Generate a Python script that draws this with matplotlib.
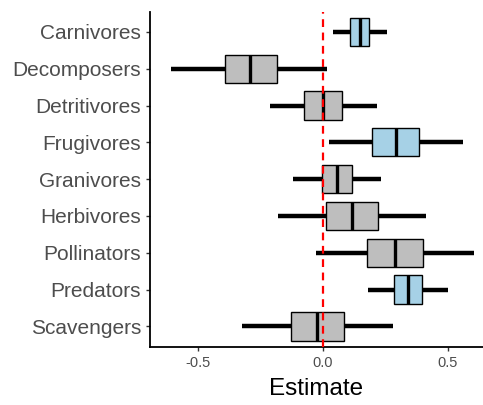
import numpy as np
import matplotlib.pyplot as plt

plt.rcParams['font.family'] = ['Liberation Sans', 'DejaVu Sans']

groups = ["Carnivores", "Decomposers", "Detritivores", "Frugivores", "Granivores",
          "Herbivores", "Pollinators", "Predators", "Scavengers"]
lo = [0.039, -0.609, -0.212, 0.025, -0.119, -0.180, -0.029, 0.181, -0.324]
q1 = [0.109, -0.393, -0.075, 0.197, -0.004, 0.011, 0.177, 0.284, -0.129]
med = [0.148, -0.291, 0.000, 0.291, 0.057, 0.116, 0.287, 0.339, -0.024]
q3 = [0.185, -0.185, 0.075, 0.384, 0.117, 0.219, 0.399, 0.395, 0.083]
hi = [0.256, 0.016, 0.215, 0.559, 0.231, 0.412, 0.604, 0.500, 0.280]
highlight = [True, False, False, True, False, False, False, True, False]

fig = plt.figure(figsize=(4.83, 4.05), dpi=100)
ax = fig.add_axes([150 / 483, 58 / 405, 333 / 483, 335 / 405])

n = len(groups)
pos = np.arange(n, 0, -1)
stats = []
for i in range(n):
    stats.append(dict(whislo=lo[i], q1=q1[i], med=med[i], q3=q3[i], whishi=hi[i], fliers=[]))

bp = ax.bxp(stats, positions=pos, widths=0.77, orientation='horizontal',
            patch_artist=True, showcaps=False, showfliers=False,
            whiskerprops=dict(color='black', linewidth=3.2, solid_capstyle='butt'),
            medianprops=dict(color='black', linewidth=2.4, solid_capstyle='butt'),
            boxprops=dict(edgecolor='black', linewidth=1.0))
for patch, h in zip(bp['boxes'], highlight):
    patch.set_facecolor('#a6d1e6' if h else '#bebebe')
    patch.set_zorder(3)
for m in bp['medians']:
    m.set_zorder(4)

ax.axvline(0, color='red', linestyle=(0, (3.5, 2.5)), linewidth=1.6, zorder=5)

ax.set_xlim(-0.692, 0.64)
ax.set_ylim(0.44, n + 0.54)
ax.set_yticks(pos)
ax.set_yticklabels(groups)
ax.set_xticks([-0.5, 0.0, 0.5])
ax.set_xticklabels(["-0.5", "0.0", "0.5"])
ax.tick_params(axis='y', labelsize=15, labelcolor='#4d4d4d', color='#333333', length=3, width=1)
ax.tick_params(axis='x', labelsize=10.5, labelcolor='#4d4d4d', color='#333333', length=3, width=1)
ax.set_xlabel("Estimate", fontsize=17.5, labelpad=6)

for s in ['top', 'right']:
    ax.spines[s].set_visible(False)
for s in ['left', 'bottom']:
    ax.spines[s].set_linewidth(1.3)
    ax.spines[s].set_color('black')

plt.savefig("out.png", dpi=100)
